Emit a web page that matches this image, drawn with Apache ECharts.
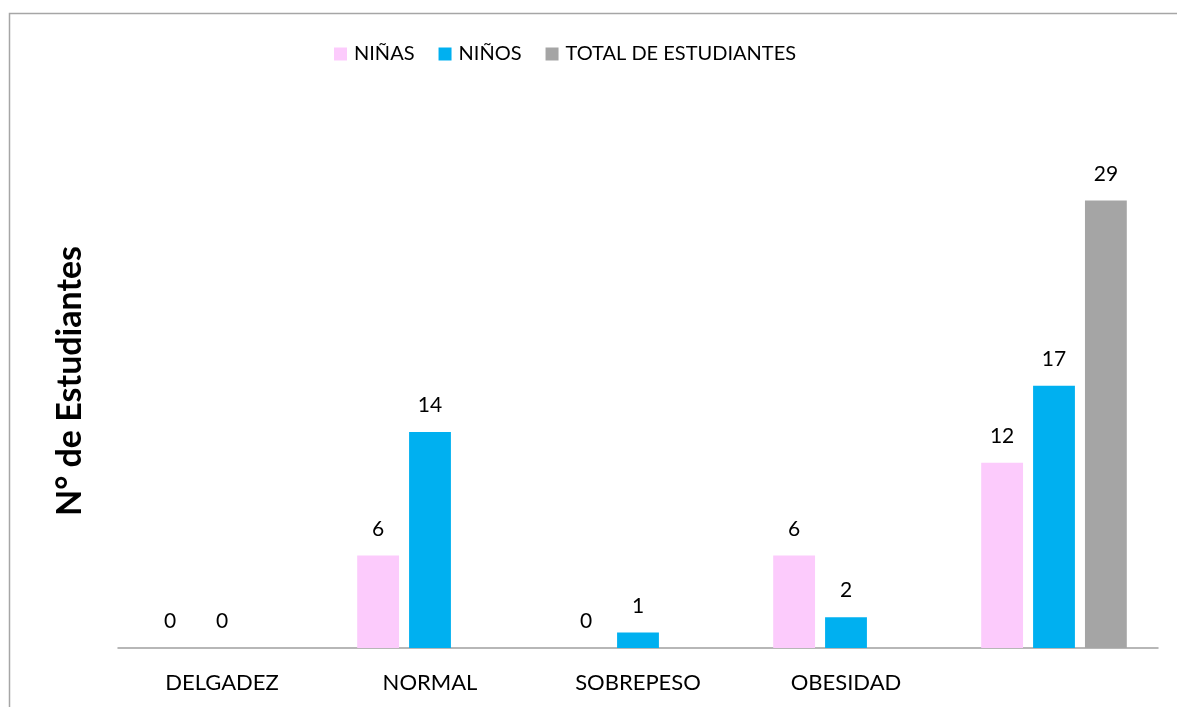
<!DOCTYPE html>
<html>
<head>
<meta charset="utf-8">
<script src="https://cdn.jsdelivr.net/npm/echarts@6/dist/echarts.min.js"></script>
<style>
  html, body { margin: 0; padding: 0; background: #fff; }
  #chart { width: 1177px; height: 707px; }
</style>
</head>
<body>
<div id="chart"></div>
<script>
// data
const categories = ['DELGADEZ', 'NORMAL', 'SOBREPESO', 'OBESIDAD', ''];
const ninas = [0, 6, 0, 6, 12];
const ninos = [0, 14, 1, 2, 17];
const total = [null, null, null, null, 29];

const FONT = 'Lato';
const chart = echarts.init(document.getElementById('chart'));

const labelStyle = {
  show: true,
  position: 'top',
  distance: 16,
  color: '#000',
  fontFamily: FONT,
  fontSize: 21
};

chart.setOption({
  backgroundColor: '#fff',
  animation: false,
  textStyle: { fontFamily: FONT },
  graphic: [
    {
      type: 'rect',
      shape: { x: 9.5, y: 13.5, width: 1300, height: 900 },
      style: { fill: 'none', stroke: '#a6a6a6', lineWidth: 1.5 },
      silent: true
    },
    {
      type: 'text',
      x: 70,
      y: 381,
      rotation: Math.PI / 2,
      style: {
        text: 'N° de Estudiantes',
        fontFamily: FONT,
        fontSize: 34,
        fontWeight: 'bold',
        fill: '#000',
        align: 'center',
        verticalAlign: 'middle'
      }
    }
  ],
  legend: {
    top: 39,
    left: 329,
    itemWidth: 13,
    itemHeight: 13,
    itemGap: 24,
    icon: 'rect',
    textStyle: { fontFamily: FONT, fontSize: 20, color: '#000', padding: [0, 0, 0, 2] },
    data: ['NIÑAS', 'NIÑOS', 'TOTAL DE ESTUDIANTES']
  },
  grid: { left: 118, right: 19, top: 185, bottom: 59, containLabel: false },
  xAxis: {
    type: 'category',
    data: categories,
    axisLine: { lineStyle: { color: '#a0a0a0', width: 1.5 } },
    axisTick: { show: false },
    axisLabel: { color: '#000', fontFamily: FONT, fontSize: 22, margin: 24 }
  },
  yAxis: {
    type: 'value',
    min: 0,
    max: 30,
    show: false,
    splitLine: { show: false }
  },
  series: [
    {
      name: 'NIÑAS',
      type: 'bar',
      data: ninas,
      barGap: '24%',
      barCategoryGap: '30%',
      itemStyle: { color: '#fccbfc' },
      label: labelStyle
    },
    {
      name: 'NIÑOS',
      type: 'bar',
      data: ninos,
      itemStyle: { color: '#00b0f0' },
      label: labelStyle
    },
    {
      name: 'TOTAL DE ESTUDIANTES',
      type: 'bar',
      data: total,
      itemStyle: { color: '#a5a5a5' },
      label: labelStyle
    }
  ]
});
</script>
</body>
</html>
